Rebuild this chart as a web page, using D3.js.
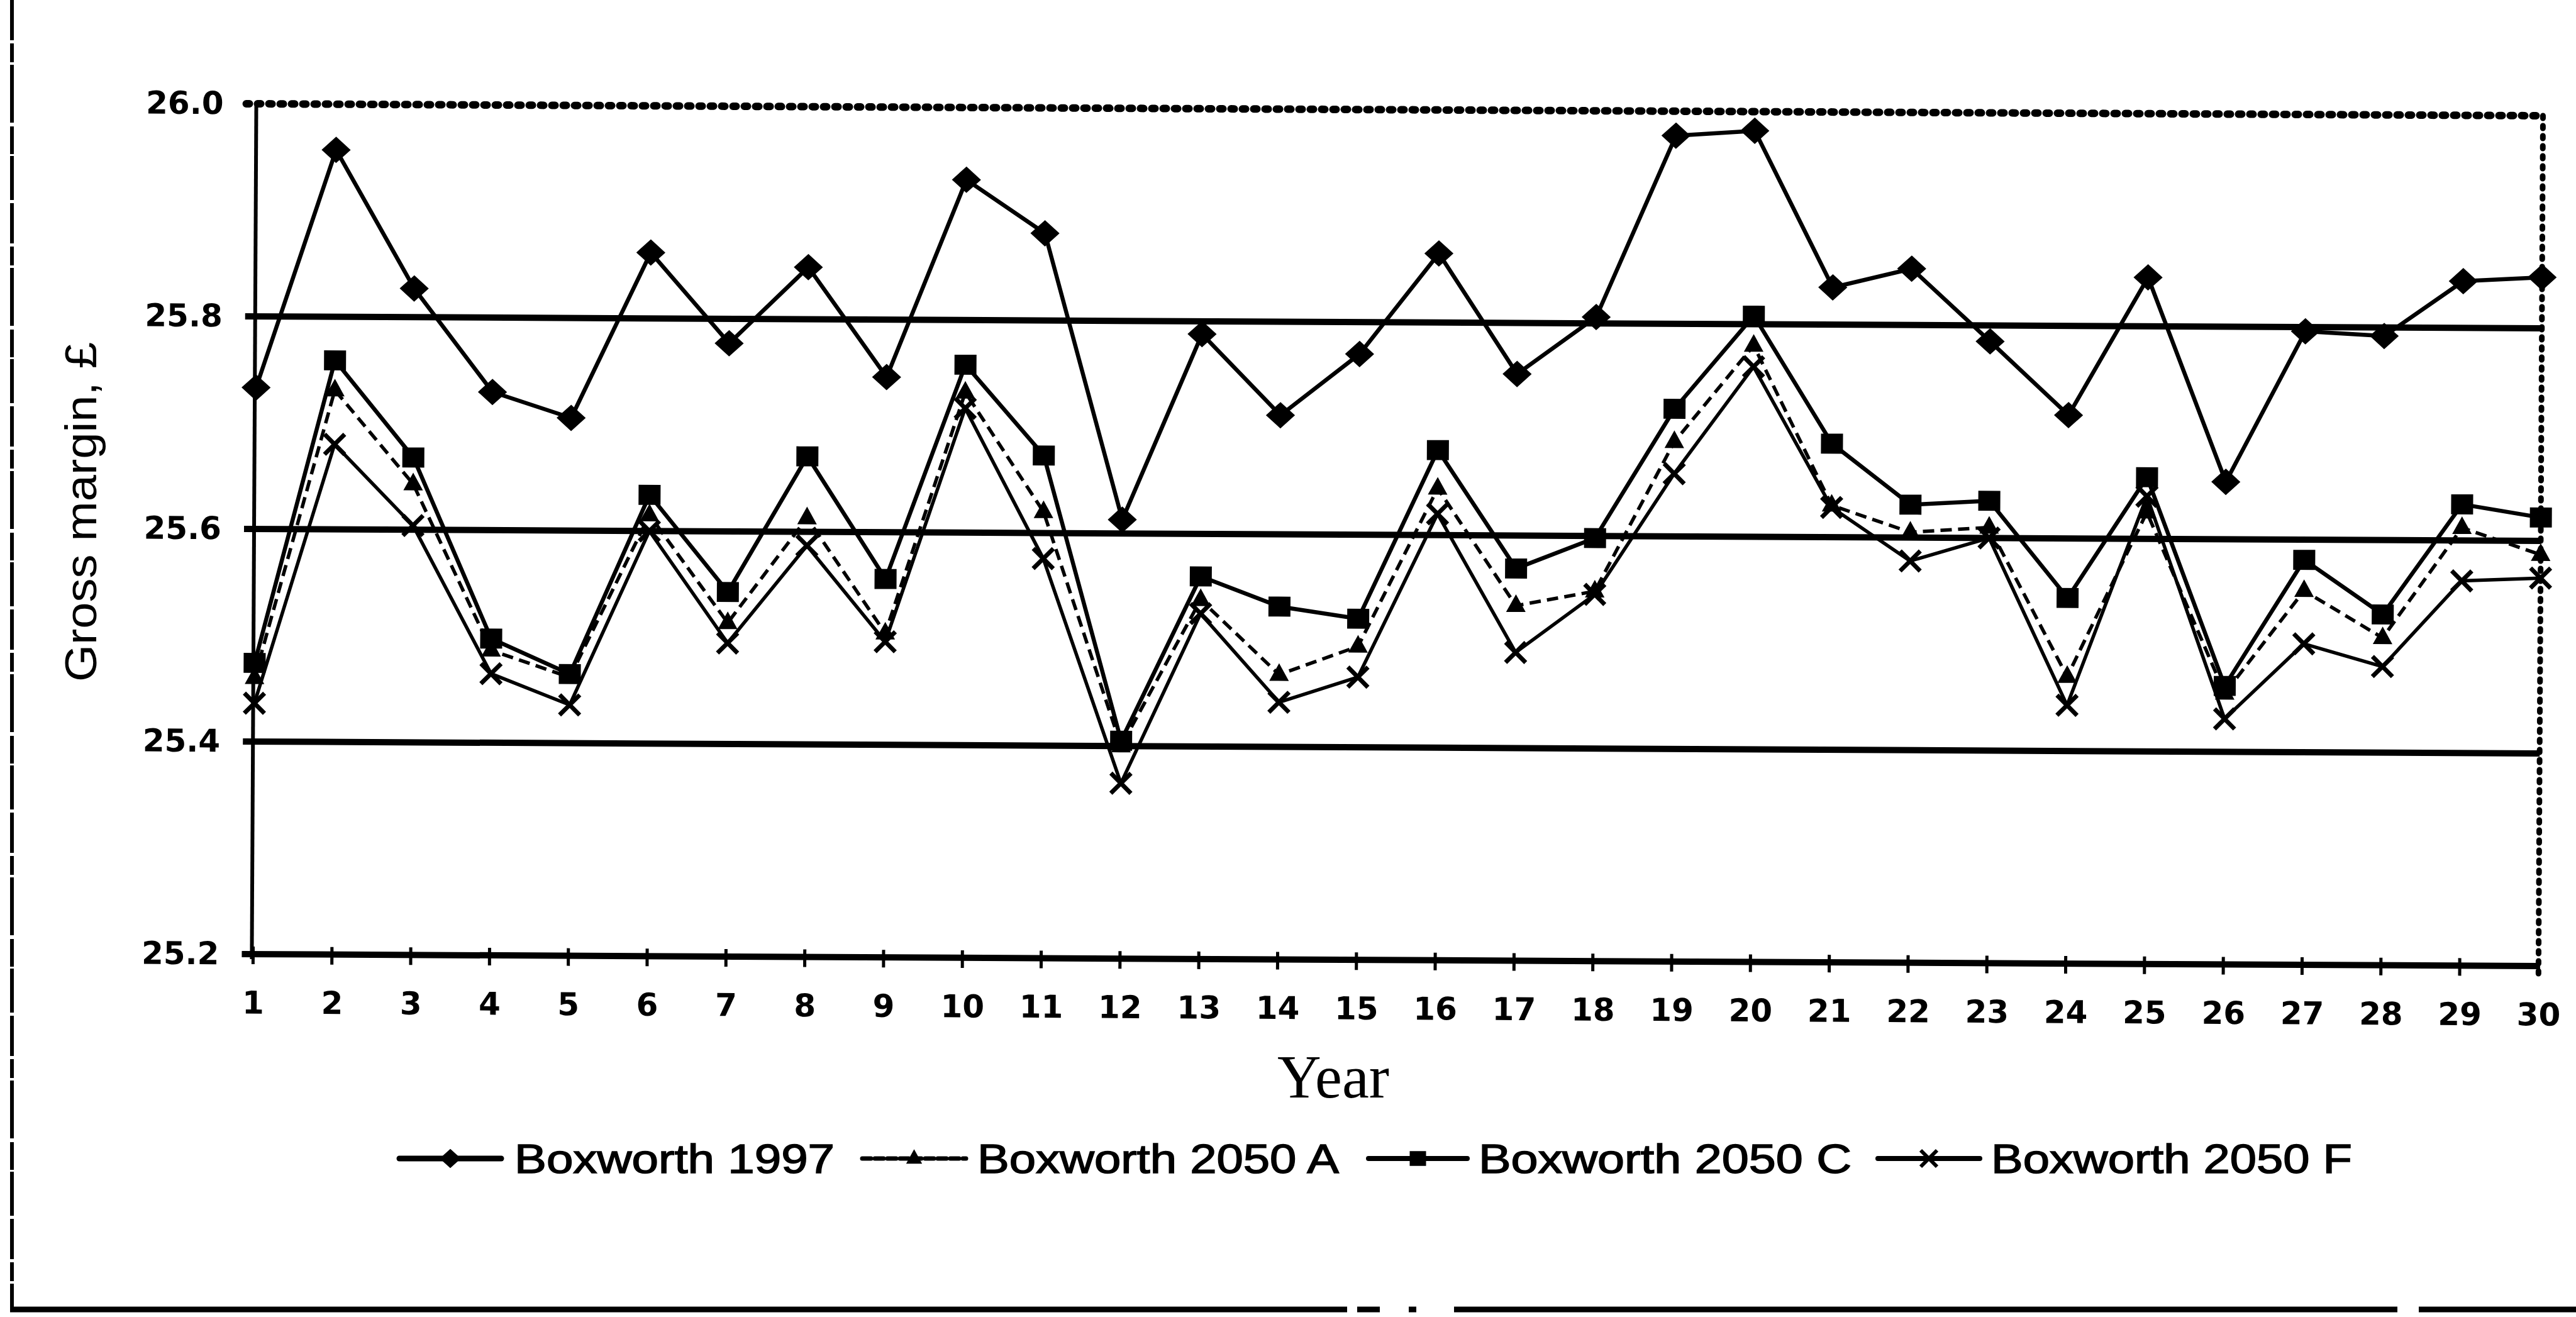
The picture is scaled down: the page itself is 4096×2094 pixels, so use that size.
<!DOCTYPE html>
<html>
<head>
<meta charset="utf-8">
<script src="https://cdn.jsdelivr.net/npm/d3@7"></script>
<style>
  html, body { margin: 0; padding: 0; background: #fff; }
  svg { display: block; }
</style>
</head>
<body>
<script>
// Gross margin per simulated year, Boxworth site, four climate scenarios
const years = d3.range(1, 31);
const yTicks = [25.2, 25.4, 25.6, 25.8, 26.0];
const gridValues = [25.4, 25.6, 25.8];

const boxworth1997 = [25.733, 25.957, 25.827, 25.730, 25.706, 25.862, 25.777, 25.849, 25.746, 25.932,
                      25.882, 25.613, 25.788, 25.712, 25.770, 25.865, 25.752, 25.806, 25.977, 25.982,
                      25.835, 25.853, 25.785, 25.716, 25.846, 25.654, 25.796, 25.792, 25.844, 25.848];
const boxworth2050A = [25.460, 25.731, 25.643, 25.487, 25.462, 25.615, 25.514, 25.613, 25.505, 25.732,
                       25.620, 25.400, 25.538, 25.468, 25.495, 25.644, 25.534, 25.548, 25.689, 25.780,
                       25.630, 25.605, 25.610, 25.470, 25.625, 25.455, 25.552, 25.508, 25.612, 25.587];
const boxworth2050C = [25.474, 25.759, 25.668, 25.498, 25.465, 25.634, 25.543, 25.671, 25.556, 25.758,
                       25.673, 25.405, 25.560, 25.532, 25.521, 25.680, 25.569, 25.598, 25.720, 25.808,
                       25.688, 25.631, 25.635, 25.544, 25.658, 25.462, 25.581, 25.530, 25.634, 25.622];
const boxworth2050F = [25.436, 25.680, 25.604, 25.465, 25.436, 25.600, 25.495, 25.587, 25.497, 25.717,
                       25.576, 25.365, 25.525, 25.442, 25.466, 25.620, 25.490, 25.545, 25.659, 25.760,
                       25.628, 25.578, 25.600, 25.443, 25.640, 25.431, 25.502, 25.481, 25.562, 25.565];

const seriesNames = ["Boxworth 1997", "Boxworth 2050 A", "Boxworth 2050 C", "Boxworth 2050 F"];
const xTitle = "Year";
const yTitle = "Gross margin, \u00A3";

const W = 4096, H = 2094;
const ink = "#000";

const svg = d3.select("body").append("svg")
  .attr("width", W).attr("height", H)
  .attr("viewBox", `0 0 ${W} ${H}`);

svg.append("rect").attr("width", W).attr("height", H).attr("fill", "#fff");

// Scales
const x = d3.scaleLinear().domain([1, 30]).range([406, 4040]);
const y = d3.scaleLinear().domain([25.2, 26.0]).range([1517, 165]);

// Page frame: left rule and broken bottom rule
svg.append("line")
  .attr("x1", 19).attr("x2", 19).attr("y1", 0).attr("y2", 2082)
  .attr("stroke", ink).attr("stroke-width", 6)
  .attr("stroke-dasharray", "64 5 30 4 92 6 44 3 70 5");
const bottomRule = [[16, 2142], [2158, 2194], [2240, 2252], [2312, 3812], [3846, 4096]];
svg.selectAll("line.rule").data(bottomRule).join("line")
  .attr("class", "rule")
  .attr("x1", d => d[0]).attr("x2", d => d[1])
  .attr("y1", 2082).attr("y2", 2082)
  .attr("stroke", ink).attr("stroke-width", 9);

// Chart body (the printed page sits slightly skewed)
const plot = svg.append("g").attr("transform", "rotate(0.3, 406, 840)");

const xL = x.range()[0], xR = x.range()[1];

// Top border: beaded dotted rule at 26.0
plot.append("line")
  .attr("x1", xL - 18).attr("x2", xR).attr("y1", y(26.0)).attr("y2", y(26.0))
  .attr("stroke", ink).attr("stroke-width", 12)
  .attr("stroke-linecap", "round").attr("stroke-dasharray", "5 13");

// Right border: dotted
plot.append("line")
  .attr("x1", xR).attr("x2", xR).attr("y1", y(26.0)).attr("y2", y(25.2) + 12)
  .attr("stroke", ink).attr("stroke-width", 9)
  .attr("stroke-linecap", "round").attr("stroke-dasharray", "4 12");

// Horizontal gridlines
plot.selectAll("line.grid").data(gridValues).join("line")
  .attr("class", "grid")
  .attr("x1", xL - 18).attr("x2", xR)
  .attr("y1", d => y(d)).attr("y2", d => y(d))
  .attr("stroke", ink).attr("stroke-width", 10);

// Left axis line
plot.append("line")
  .attr("x1", xL - 2).attr("x2", xL - 2).attr("y1", y(26.0)).attr("y2", y(25.2) + 8)
  .attr("stroke", ink).attr("stroke-width", 6);

// Bottom axis line with year ticks
plot.append("line")
  .attr("x1", xL - 18).attr("x2", xR).attr("y1", y(25.2)).attr("y2", y(25.2))
  .attr("stroke", ink).attr("stroke-width", 10);
plot.selectAll("line.xtick").data(years).join("line")
  .attr("class", "xtick")
  .attr("x1", d => x(d)).attr("x2", d => x(d))
  .attr("y1", y(25.2) - 12).attr("y2", y(25.2) + 16)
  .attr("stroke", ink).attr("stroke-width", 5);

// Y tick labels
const yAxis = plot.append("g")
  .attr("transform", "translate(352,0)")
  .call(d3.axisLeft(y).tickValues(yTicks).tickFormat(d3.format(".1f")).tickSize(0).tickPadding(0));
yAxis.select(".domain").remove();
yAxis.selectAll("text")
  .attr("fill", ink)
  .style("font-family", "'DejaVu Sans', sans-serif")
  .style("font-weight", "bold")
  .style("font-size", "50px");

// X tick labels
const xAxis = plot.append("g")
  .attr("transform", "translate(0,1576)")
  .call(d3.axisBottom(x).tickValues(years).tickFormat(d3.format("d")).tickSize(0).tickPadding(0));
xAxis.select(".domain").remove();
xAxis.selectAll("text")
  .attr("fill", ink)
  .style("font-family", "'DejaVu Sans', sans-serif")
  .style("font-weight", "bold")
  .style("font-size", "50px");

// Marker shapes
const shapes = {
  diamond: r => `M0,${-r}L${r * 1.1},0L0,${r}L${-r * 1.1},0Z`,
  square: r => `M${-r},${-r * 0.9}h${2 * r}v${1.8 * r}h${-2 * r}Z`,
  triangle: r => `M0,${-r * 1.15}L${r},${r * 0.65}L${-r},${r * 0.65}Z`,
  cross: r => `M${-r},${-r}L${r},${r}M${r},${-r}L${-r},${r}`
};

const series = [
  { name: seriesNames[3], values: boxworth2050F, shape: "cross",    r: 16, width: 5.5, dash: null },
  { name: seriesNames[1], values: boxworth2050A, shape: "triangle", r: 13, width: 5.5, dash: "18 10" },
  { name: seriesNames[2], values: boxworth2050C, shape: "square",   r: 16, width: 6.5, dash: null },
  { name: seriesNames[0], values: boxworth1997,  shape: "diamond",  r: 19, width: 6.5, dash: null }
];

const line = d3.line().x((d, i) => x(years[i])).y(d => y(d));

series.forEach(s => {
  const g = plot.append("g").attr("class", "series");
  g.append("path")
    .attr("d", line(s.values))
    .attr("fill", "none").attr("stroke", ink)
    .attr("stroke-width", s.width)
    .attr("stroke-linejoin", "round")
    .attr("stroke-dasharray", s.dash);
  g.selectAll("path.mark").data(s.values).join("path")
    .attr("class", "mark")
    .attr("transform", (d, i) => `translate(${x(years[i])},${y(d)})`)
    .attr("d", shapes[s.shape](s.r))
    .attr("fill", s.shape === "cross" ? "none" : ink)
    .attr("stroke", ink)
    .attr("stroke-width", s.shape === "cross" ? 7 : 3);
});

// Axis titles
svg.append("text")
  .attr("transform", "translate(153,814) rotate(-90)")
  .attr("text-anchor", "middle")
  .attr("textLength", 540).attr("lengthAdjust", "spacingAndGlyphs")
  .style("font-family", "'Liberation Sans', Arial, sans-serif")
  .style("font-size", "70px")
  .attr("fill", ink)
  .text(yTitle);

svg.append("text")
  .attr("x", 2120).attr("y", 1745)
  .attr("text-anchor", "middle")
  .attr("textLength", 178).attr("lengthAdjust", "spacingAndGlyphs")
  .style("font-family", "'Liberation Serif', 'Times New Roman', serif")
  .style("font-size", "98px")
  .attr("fill", ink)
  .text(xTitle);

// Legend
const legendItems = [
  { name: seriesNames[0], shape: "diamond",  r: 14, dash: null,    width: 9, x0: 635,  x1: 797,  tx: 818,  tl: 509 },
  { name: seriesNames[1], shape: "triangle", r: 11, dash: "14 6",  width: 7, x0: 1371, x1: 1536, tx: 1554, tl: 575 },
  { name: seriesNames[2], shape: "square",   r: 12, dash: null,    width: 8, x0: 2176, x1: 2333, tx: 2351, tl: 593 },
  { name: seriesNames[3], shape: "cross",    r: 13, dash: null,    width: 8, x0: 2986, x1: 3148, tx: 3166, tl: 574 }
];
const legendY = 1842;
const lg = svg.append("g").attr("class", "legend");
legendItems.forEach(it => {
  lg.append("line")
    .attr("x1", it.x0).attr("x2", it.x1).attr("y1", legendY).attr("y2", legendY)
    .attr("stroke", ink).attr("stroke-width", it.width)
    .attr("stroke-linecap", "round")
    .attr("stroke-dasharray", it.dash);
  lg.append("path")
    .attr("transform", `translate(${(it.x0 + it.x1) / 2},${legendY})`)
    .attr("d", shapes[it.shape](it.r))
    .attr("fill", it.shape === "cross" ? "none" : ink)
    .attr("stroke", ink).attr("stroke-width", it.shape === "cross" ? 6 : 2);
  lg.append("text")
    .attr("x", it.tx).attr("y", 1865)
    .attr("textLength", it.tl).attr("lengthAdjust", "spacingAndGlyphs")
    .style("font-family", "'Liberation Sans', Arial, sans-serif")
    .style("font-size", "64px")
    .style("stroke", ink).style("stroke-width", "1.5px")
    .attr("fill", ink)
    .text(it.name);
});
</script>
</body>
</html>
